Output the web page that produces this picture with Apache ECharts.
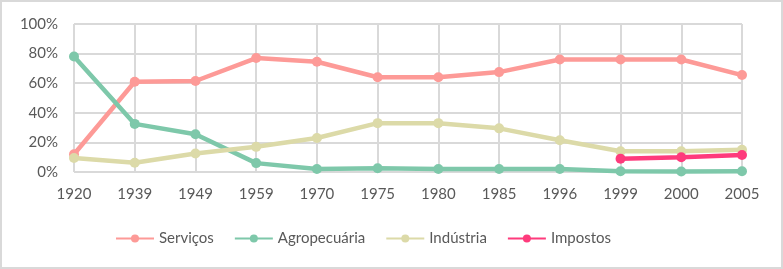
<!DOCTYPE html>
<html>
<head>
<meta charset="utf-8">
<script src="https://cdn.jsdelivr.net/npm/echarts@6/dist/echarts.min.js"></script>
<style>
  html, body { margin: 0; padding: 0; background: #fff; }
  #chart { width: 779px; height: 265px; border: 2px solid #d9d9d9; }
</style>
</head>
<body>
<div id="chart"></div>
<script>
var years = ['1920', '1939', '1949', '1959', '1970', '1975', '1980', '1985', '1996', '1999', '2000', '2005'];
var servicos = [12, 61, 61.5, 77, 74.5, 64, 64, 67.5, 76, 76, 76, 65.5];
var agropecuaria = [78, 32.5, 25.5, 6, 2, 2.5, 2, 2, 2, 0.5, 0.3, 0.5];
var industria = [9.5, 6.3, 12.5, 17, 23, 33, 33, 29.5, 21.5, 14, 14, 15];
var impostos = [null, null, null, null, null, null, null, null, null, 9, 10, 11.5];

var chart = echarts.init(document.getElementById('chart'));

function line(name, data, color) {
    return {
        name: name,
        type: 'line',
        data: data,
        symbol: 'circle',
        symbolSize: 10,
        lineStyle: { width: 4.5, color: color },
        itemStyle: { color: color },
        emphasis: { disabled: true }
    };
}

chart.setOption({
    animation: false,
    textStyle: { fontFamily: 'Lato', color: '#595959' },
    grid: { left: 72, right: 39, top: 22, bottom: 95 },
    xAxis: {
        type: 'category',
        data: years,
        boundaryGap: false,
        axisLine: { show: false },
        axisTick: { show: false },
        splitLine: { show: true, lineStyle: { color: '#d9d9d9', width: 2 } },
        axisLabel: { color: '#595959', fontSize: 15, margin: 15 }
    },
    yAxis: {
        type: 'value',
        min: 0,
        max: 100,
        interval: 20,
        axisLine: { show: false },
        axisTick: { show: false },
        splitLine: { lineStyle: { color: '#d9d9d9', width: 2 } },
        axisLabel: { color: '#595959', fontSize: 15, margin: 16, formatter: '{value}%' }
    },
    legend: {
        bottom: 16,
        left: 108,
        itemWidth: 38,
        itemHeight: 10,
        itemGap: 20,
        textStyle: { color: '#595959', fontSize: 15 },
        data: ['Serviços', 'Agropecuária', 'Indústria', 'Impostos']
    },
    series: [
        line('Serviços', servicos, '#fd9a97'),
        line('Agropecuária', agropecuaria, '#7ec8aa'),
        line('Indústria', industria, '#dcdaa8'),
        line('Impostos', impostos, '#fe3b7c')
    ]
});
</script>
</body>
</html>
